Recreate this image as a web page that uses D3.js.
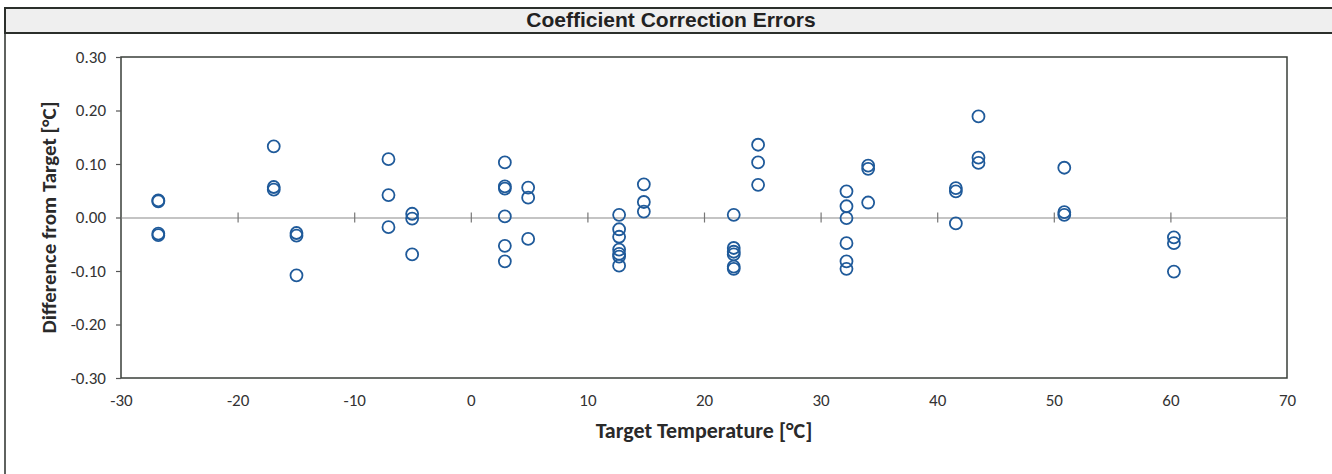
<!DOCTYPE html>
<html>
<head>
<meta charset="utf-8">
<script src="https://cdn.jsdelivr.net/npm/d3@7"></script>
<style>
  body { margin: 0; background: #fff; }
  svg { display: block; }
</style>
</head>
<body>
<svg id="chart" width="1332" height="474"></svg>
<script>
// readings: target temperature (°C) and difference from target (°C)
const temps = [
  -26.8, -26.8, -26.8, -26.8,
  -16.9, -16.9, -16.9,
  -14.95, -14.95, -14.95,
  -7.06, -7.06, -7.06,
  -5.03, -5.03, -5.03,
  2.92, 2.92, 2.92, 2.92, 2.92, 2.92,
  4.92, 4.92, 4.92,
  12.72, 12.72, 12.72, 12.72, 12.72, 12.72, 12.72,
  14.84, 14.84, 14.84,
  22.55, 22.55, 22.55, 22.55, 22.55, 22.55,
  24.64, 24.64, 24.64,
  32.22, 32.22, 32.22, 32.22, 32.22, 32.22,
  34.08, 34.08, 34.08,
  41.6, 41.6, 41.6,
  43.54, 43.54, 43.54,
  50.9, 50.9, 50.9,
  60.3, 60.3, 60.3
];
const diffs = [
  0.032, 0.030, -0.030, -0.033,
  0.133, 0.057, 0.052,
  -0.029, -0.034, -0.108,
  0.109, 0.042, -0.018,
  0.007, -0.002, -0.069,
  0.103, 0.058, 0.054, 0.002, -0.053, -0.082,
  0.056, 0.037, -0.040,
  0.005, -0.022, -0.036, -0.060, -0.068, -0.073, -0.090,
  0.062, 0.029, 0.011,
  0.005, -0.057, -0.064, -0.069, -0.092, -0.096,
  0.136, 0.103, 0.061,
  0.049, 0.021, -0.001, -0.048, -0.082, -0.096,
  0.097, 0.091, 0.028,
  0.055, 0.049, -0.011,
  0.189, 0.112, 0.102,
  0.093, 0.010, 0.005,
  -0.037, -0.048, -0.101
];
const xTicks = [-30, -20, -10, 0, 10, 20, 30, 40, 50, 60, 70];
const yTicks = [-0.3, -0.2, -0.1, 0, 0.1, 0.2, 0.3];

const chartTitle = "Coefficient Correction Errors";
const xTitle = "Target Temperature [°C]";
const yTitle = "Difference from Target [°C]";

const svg = d3.select("#chart");
const plot = {left: 121, right: 1287, top: 57, bottom: 378};
const labelFont = "Carlito, 'Liberation Sans Narrow', 'Open Sans', sans-serif";

// outer frame and title band
svg.append("rect")
    .attr("x", 5).attr("y", 8)
    .attr("width", 1330).attr("height", 480)
    .attr("fill", "#fff")
    .attr("stroke", "#2b2f2b").attr("stroke-width", 1.5);
svg.append("rect")
    .attr("x", 5).attr("y", 8)
    .attr("width", 1330).attr("height", 25)
    .attr("fill", "#efefef")
    .attr("stroke", "#2b2f2b").attr("stroke-width", 2);
svg.append("text")
    .attr("x", 671).attr("y", 27)
    .attr("text-anchor", "middle")
    .attr("font-family", "'Liberation Sans', Arial, sans-serif")
    .attr("font-weight", "bold")
    .attr("font-size", 21)
    .attr("fill", "#222")
    .text(chartTitle);

const x = d3.scaleLinear().domain([-30, 70]).range([plot.left, plot.right]);
const y = d3.scaleLinear().domain([-0.3, 0.3]).range([plot.bottom, plot.top]);

// plot area border
svg.append("rect")
    .attr("x", plot.left).attr("y", plot.top)
    .attr("width", plot.right - plot.left).attr("height", plot.bottom - plot.top)
    .attr("fill", "none")
    .attr("stroke", "#3a3f3a").attr("stroke-width", 1.5);

// zero line with cross ticks
const zeroAxis = svg.append("g")
    .attr("transform", "translate(0," + y(0) + ")")
    .call(d3.axisBottom(x).tickValues(xTicks.slice(1, -1)).tickSize(0).tickFormat(""));
zeroAxis.select(".domain").attr("stroke", "#8a8a8a").attr("stroke-width", 1.2);
zeroAxis.selectAll(".tick line")
    .attr("y1", -5).attr("y2", 5)
    .attr("stroke", "#777").attr("stroke-width", 1.2);

// x tick labels along the bottom
const xAxis = svg.append("g")
    .attr("transform", "translate(0," + plot.bottom + ")")
    .call(d3.axisBottom(x).tickValues(xTicks).tickSize(0).tickPadding(16).tickFormat(d => String(d)));
xAxis.select(".domain").remove();
xAxis.selectAll("text")
    .attr("font-family", labelFont)
    .attr("font-size", 17)
    .attr("fill", "#333");

// y axis
const yAxis = svg.append("g")
    .attr("transform", "translate(" + plot.left + ",0)")
    .call(d3.axisLeft(y).tickValues(yTicks).tickSize(5).tickPadding(10).tickFormat(d => d.toFixed(2)));
yAxis.select(".domain").remove();
yAxis.selectAll(".tick line").attr("stroke", "#555").attr("stroke-width", 1.2);
yAxis.selectAll("text")
    .attr("font-family", labelFont)
    .attr("font-size", 17)
    .attr("fill", "#333");

// axis titles
svg.append("text")
    .attr("x", (plot.left + plot.right) / 2).attr("y", 438)
    .attr("text-anchor", "middle")
    .attr("font-family", labelFont)
    .attr("font-weight", "bold")
    .attr("font-size", 22)
    .attr("fill", "#2a2a2a")
    .text(xTitle);
svg.append("text")
    .attr("transform", "translate(56," + ((plot.top + plot.bottom) / 2) + ") rotate(-90)")
    .attr("text-anchor", "middle")
    .attr("font-family", labelFont)
    .attr("font-weight", "bold")
    .attr("font-size", 21)
    .attr("fill", "#2a2a2a")
    .text(yTitle);

// markers
svg.append("g")
    .selectAll("circle")
    .data(temps.map((t, i) => ({t: t, v: diffs[i]})))
    .enter().append("circle")
    .attr("cx", d => x(d.t))
    .attr("cy", d => y(d.v))
    .attr("r", 6)
    .attr("fill", "none")
    .attr("stroke", "#1f5a9a")
    .attr("stroke-width", 1.8);
</script>
</body>
</html>
